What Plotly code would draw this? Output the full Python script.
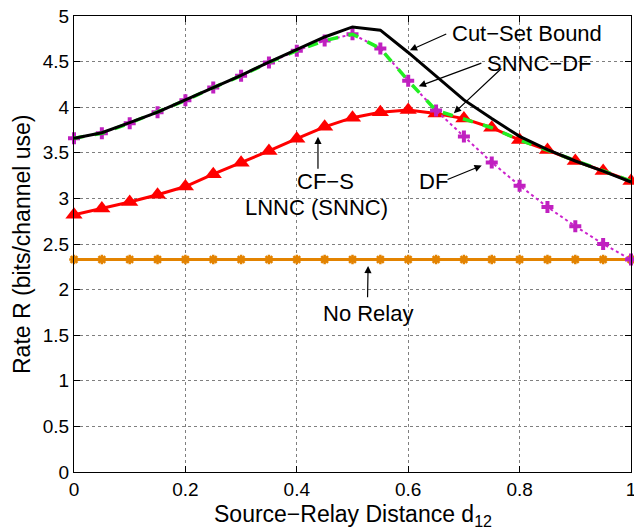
import plotly.graph_objects as go

# ---- data ----
d12 = [0.0, 0.05, 0.1, 0.15, 0.2, 0.25, 0.3, 0.35, 0.4, 0.45, 0.5,
       0.55, 0.6, 0.65, 0.7, 0.75, 0.8, 0.85, 0.9, 0.95, 1.0]
cutset = [3.66, 3.72, 3.83, 3.945, 4.08, 4.215, 4.35, 4.495, 4.63, 4.77, 4.88,
          4.845, 4.60, 4.34, 4.08, 3.875, 3.68, 3.535, 3.41, 3.30, 3.18]
df = [3.66, 3.715, 3.825, 3.945, 4.075, 4.215, 4.345, 4.49, 4.62, 4.73, 4.80,
      4.645, 4.29, 3.965, 3.68, 3.395, 3.14, 2.905, 2.695, 2.50, 2.33]
cfs = [2.82, 2.89, 2.96, 3.04, 3.13, 3.265, 3.39, 3.52, 3.655, 3.785, 3.885,
       3.945, 3.97, 3.93, 3.875, 3.775, 3.64, 3.53, 3.41, 3.30, 3.19]
snnc_df = [3.66, 3.715, 3.825, 3.945, 4.075, 4.215, 4.345, 4.49, 4.62, 4.73, 4.80,
           4.645, 4.29, 3.965, 3.875, 3.775, 3.64, 3.53, 3.41, 3.30, 3.19]
no_relay = [2.33] * 21

x_ticks = [0, 0.2, 0.4, 0.6, 0.8, 1]
y_ticks = [0, 0.5, 1, 1.5, 2, 2.5, 3, 3.5, 4, 4.5, 5]

FONT = "Liberation Sans, Arial, Helvetica, sans-serif"

fig = go.Figure()
fig.add_trace(go.Scatter(x=d12, y=no_relay, mode="lines+markers",
                         line=dict(color="#e38300", width=3),
                         marker=dict(symbol="asterisk-open", size=8,
                                     line=dict(color="#e38300", width=2.5)),
                         name="No Relay", cliponaxis=False))
fig.add_trace(go.Scatter(x=d12, y=cfs, mode="lines+markers",
                         line=dict(color="#ff0000", width=3),
                         marker=dict(symbol="triangle-up", size=15, color="#ff0000"),
                         name="CF-S", cliponaxis=False))
fig.add_trace(go.Scatter(x=d12, y=df, mode="lines+markers",
                         line=dict(color="#cc22cc", width=2, dash="dot"),
                         marker=dict(symbol="cross", size=10, color="#c020c0"),
                         name="DF", cliponaxis=False))
fig.add_trace(go.Scatter(x=d12, y=snnc_df, mode="lines",
                         line=dict(color="#22ee22", width=3.5, dash="dash"),
                         name="SNNC-DF"))
fig.add_trace(go.Scatter(x=d12, y=cutset, mode="lines",
                         line=dict(color="#000000", width=3),
                         name="Cut-Set Bound"))

axis_common = dict(showline=True, linecolor="black", linewidth=1, mirror="ticks",
                   ticks="inside", ticklen=6, tickcolor="black",
                   showgrid=True, gridcolor="#7f7f7f", griddash="dot", gridwidth=1,
                   zeroline=False, automargin=False, ticklabeloverflow="allow",
                   tickfont=dict(family=FONT, size=19, color="black"))

fig.update_xaxes(range=[0, 1], tickvals=x_ticks, ticktext=[str(v) for v in x_ticks],
                 **axis_common)
fig.update_yaxes(range=[0, 5], tickvals=y_ticks, ticktext=[str(v) for v in y_ticks],
                 **axis_common)

# axis titles
fig.add_annotation(xref="paper", yref="paper", x=0.5, y=0, yanchor="top", yshift=-27,
                   text="Source−Relay Distance d<sub>12</sub>", showarrow=False,
                   font=dict(family=FONT, size=23, color="black"))
fig.add_annotation(xref="paper", yref="paper", x=0, y=0.5, xanchor="center", xshift=-52,
                   text="Rate R (bits/channel use)", textangle=-90, showarrow=False,
                   font=dict(family=FONT, size=23, color="black"))

ann_font = dict(family=FONT, size=22, color="black")
texts = [
    ("Cut−Set Bound", 0.675, 4.81, "left"),
    ("SNNC−DF", 0.738, 4.48, "left"),
    ("DF", 0.616, 3.18, "left"),
    ("CF−S", 0.451, 3.19, "center"),
    ("LNNC (SNNC)", 0.436, 2.90, "center"),
    ("No Relay", 0.528, 1.74, "center"),
]
for t, x, y, anc in texts:
    fig.add_annotation(x=x, y=y, text=t, showarrow=False, xanchor=anc, yanchor="middle",
                       font=ann_font)

arrows = [
    (0.671, 4.81, 0.603, 4.625),
    (0.734, 4.49, 0.619, 4.23),
    (0.770, 4.44, 0.682, 3.935),
    (0.668, 3.20, 0.732, 3.36),
    (0.438, 3.31, 0.438, 3.675),
    (0.527, 1.90, 0.528, 2.26),
]
for tx, ty, hx, hy in arrows:
    fig.add_annotation(x=hx, y=hy, ax=tx, ay=ty, axref="x", ayref="y", xref="x", yref="y",
                       text="", showarrow=True, arrowhead=2, arrowsize=1.2,
                       arrowwidth=1.2, arrowcolor="black", standoff=0, startstandoff=0)

fig.update_layout(width=634, height=527, showlegend=False,
                  plot_bgcolor="white", paper_bgcolor="white",
                  margin=dict(l=74, r=3, t=16, b=55),
                  font=dict(family=FONT, color="black"))

fig.write_html("out.html")
